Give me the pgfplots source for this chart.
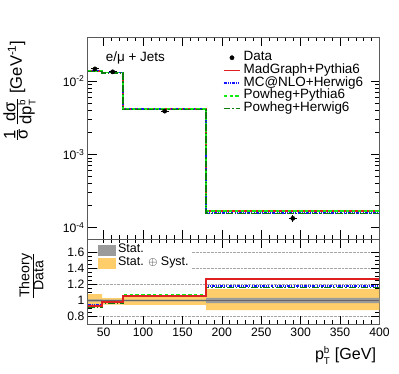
\documentclass[border=0pt]{standalone}
\usepackage{fontspec}
\setmainfont{Liberation Sans}
\usepackage{pgfplots}
\pgfplotsset{compat=1.18}

\definecolor{mgred}{RGB}{222,32,32}
\definecolor{mcblue}{RGB}{20,20,255}
\definecolor{phgreen}{RGB}{20,235,20}
\definecolor{hwgreen}{RGB}{10,125,10}
\definecolor{statgray}{RGB}{155,155,155}
\definecolor{systyel}{RGB}{255,205,105}
\definecolor{framegray}{RGB}{90,90,90}

\newcommand{\ptb}{p$^{\mbox{\fontsize{10}{10}\selectfont b}}_{\mbox{\fontsize{10}{10}\selectfont T}}$}

\pgfplotsset{
  cmsbase/.style={
    scale only axis, width=299pt, xmin=30, xmax=400,
    tick align=inside, major tick length=9pt, minor tick length=4.5pt,
    xtick={50,100,...,400}, minor x tick num=4,
    axis line style={framegray, line width=0.8pt},
    every tick/.style={black, line width=0.5pt},
    tick label style={font=\fontsize{12.5}{14}\selectfont},
    /pgf/number format/assume math mode=true,
  },
  mg/.style={const plot mark left, mgred, line width=1.8pt},
  mc/.style={const plot mark left, mcblue, line width=1.8pt, dash pattern=on 3pt off 1.2pt on 1pt off 1.2pt on 1pt off 1.2pt},
  pp/.style={const plot mark left, phgreen, line width=1.8pt, dash pattern=on 3.5pt off 2.5pt},
  ph/.style={const plot mark left, hwgreen, line width=1.8pt, dash pattern=on 7pt off 2pt on 1.5pt off 2pt},
}

\begin{document}
\begin{tikzpicture}
\begin{axis}[cmsbase, name=top, height=207pt,
  ymode=log, ymin=7e-5, ymax=0.04,
  ytick={1e-4,1e-3,1e-2},
  yticklabels={10\textsuperscript{-4},10\textsuperscript{-3},10\textsuperscript{-2}},
  xticklabels={},
  ylabel={$\frac{\mbox{1}}{\mbox{σ}}\,\frac{\mbox{dσ}}{\mbox{d\ptb}}$ [GeV\textsuperscript{-1}]},
  ylabel style={at={([xshift=-50pt]rel axis cs:0,1)}, anchor=south east, font=\fontsize{17}{20}\selectfont},
  legend style={at={(rel axis cs:0.462,0.93)}, anchor=north west, draw=none, fill=none,
    inner sep=0pt, font=\fontsize{13.8}{14}\selectfont,
    nodes={inner xsep=2.5pt, inner ysep=0pt, text height=9.8pt, text depth=3.2pt}},
  legend cell align=left,
]
\addplot[only marks, mark=*, mark size=2.2pt, black,
  error bars/.cd, x dir=both, x explicit, y dir=both, y explicit,
  error bar style={line width=1pt}, error mark=none]
  coordinates {(39,0.0147) +- (5,0.0004) (61.5,0.0134) +- (5,0.0003)
               (127.5,0.0039) +- (5,0.0001) (290,1.34e-4) +- (5,0.15e-4)};
\addlegendentry{Data}
\addplot[mg] coordinates {(30,0.01367) (48,0.01313) (75,0.004134) (180,1.702e-4) (400,1.702e-4)};
\addlegendentry{MadGraph+Pythia6}
\addplot[mc] coordinates {(30,0.01397) (48,0.01313) (75,0.004134) (180,1.581e-4) (400,1.581e-4)};
\addlegendentry{MC@NLO+Herwig6}
\addplot[pp] coordinates {(30,0.01367) (48,0.01313) (75,0.004154) (180,1.688e-4) (400,1.688e-4)};
\addlegendentry{Powheg+Pythia6}
\addplot[ph] coordinates {(30,0.01352) (48,0.01300) (75,0.004095) (180,1.554e-4) (400,1.554e-4)};
\addlegendentry{Powheg+Herwig6}
\node[anchor=base west, font=\fontsize{13.8}{16}\selectfont] at (rel axis cs:0.05,0.879) {e/μ + Jets};
\node[anchor=base east, font=\fontsize{13.8}{16}\selectfont] at ([yshift=11pt]rel axis cs:0.947,1)
  {CMS, 19.7 fb\textsuperscript{-1} at $\sqrt{\mbox{s}}$ = 8 TeV};
\end{axis}

\begin{axis}[cmsbase, at={(top.south west)}, anchor=north west, height=88pt,
  ymin=0.7, ymax=1.76, ytick={0.8,1.0,1.2,1.4,1.6}, minor y tick num=3,
  ymajorgrids, grid style={densely dotted, gray!70, line width=0.5pt},
  xticklabels={50,100,150,200,250,300,350,400},
  xlabel={\ptb\ [GeV]},
  xlabel style={at={(rel axis cs:1,0)}, anchor=north east, yshift=-19pt, font=\fontsize{16.5}{18}\selectfont},
  ylabel={$\frac{\mbox{Theory}}{\mbox{Data}}$},
  ylabel style={at={([xshift=-42pt]rel axis cs:0,0.57)}, anchor=south, font=\fontsize{14.5}{16}\selectfont},
  legend style={at={(rel axis cs:0.033,0.95)}, anchor=north west, draw=none, fill=white,
    inner sep=0pt, font=\fontsize{12.8}{14}\selectfont,
    nodes={inner xsep=2.5pt, inner ysep=0pt, text height=9.5pt, text depth=4pt}},
  legend cell align=left,
]
\addlegendimage{legend image code/.code={\fill[statgray] (0pt,-5pt) rectangle (18pt,5pt);}}
\addlegendentry{Stat.}
\addlegendimage{legend image code/.code={\fill[systyel] (0pt,-5pt) rectangle (18pt,5pt);}}
\addlegendentry{Stat. $\oplus$ Syst.}
\addplot[fill=systyel, draw=none] coordinates {(30,1.08) (48,1.08) (48,1.03) (75,1.03) (75,1.067) (180,1.067)
  (180,1.14) (400,1.14) (400,0.88) (180,0.88) (180,0.947) (75,0.947) (75,0.95) (48,0.95) (48,0.915) (30,0.915)} -- cycle;
\addplot[fill=statgray, draw=none] coordinates {(30,1.015) (48,1.015) (48,1.01) (75,1.01) (75,1.012) (180,1.012)
  (180,1.032) (400,1.032) (400,0.968) (180,0.968) (180,0.988) (75,0.988) (75,0.99) (48,0.99) (48,0.985) (30,0.985)} -- cycle;
\addplot[gray!80!black, line width=0.8pt] coordinates {(30,1) (400,1)};
\addplot[ph] coordinates {(30,0.92) (48,0.97) (75,1.05) (180,1.16) (400,1.16)};
\addplot[mc] coordinates {(30,0.95) (48,0.98) (75,1.06) (180,1.18) (400,1.18)};
\addplot[pp] coordinates {(30,0.93) (48,0.98) (75,1.065) (180,1.26) (400,1.26)};
\addplot[mg] coordinates {(30,0.93) (48,0.98) (75,1.06) (180,1.27) (400,1.27)};
\end{axis}
\path ([xshift=-80pt,yshift=38pt]top.north west) rectangle ([xshift=319pt,yshift=-345pt]top.north west);
\end{tikzpicture}
\end{document}
